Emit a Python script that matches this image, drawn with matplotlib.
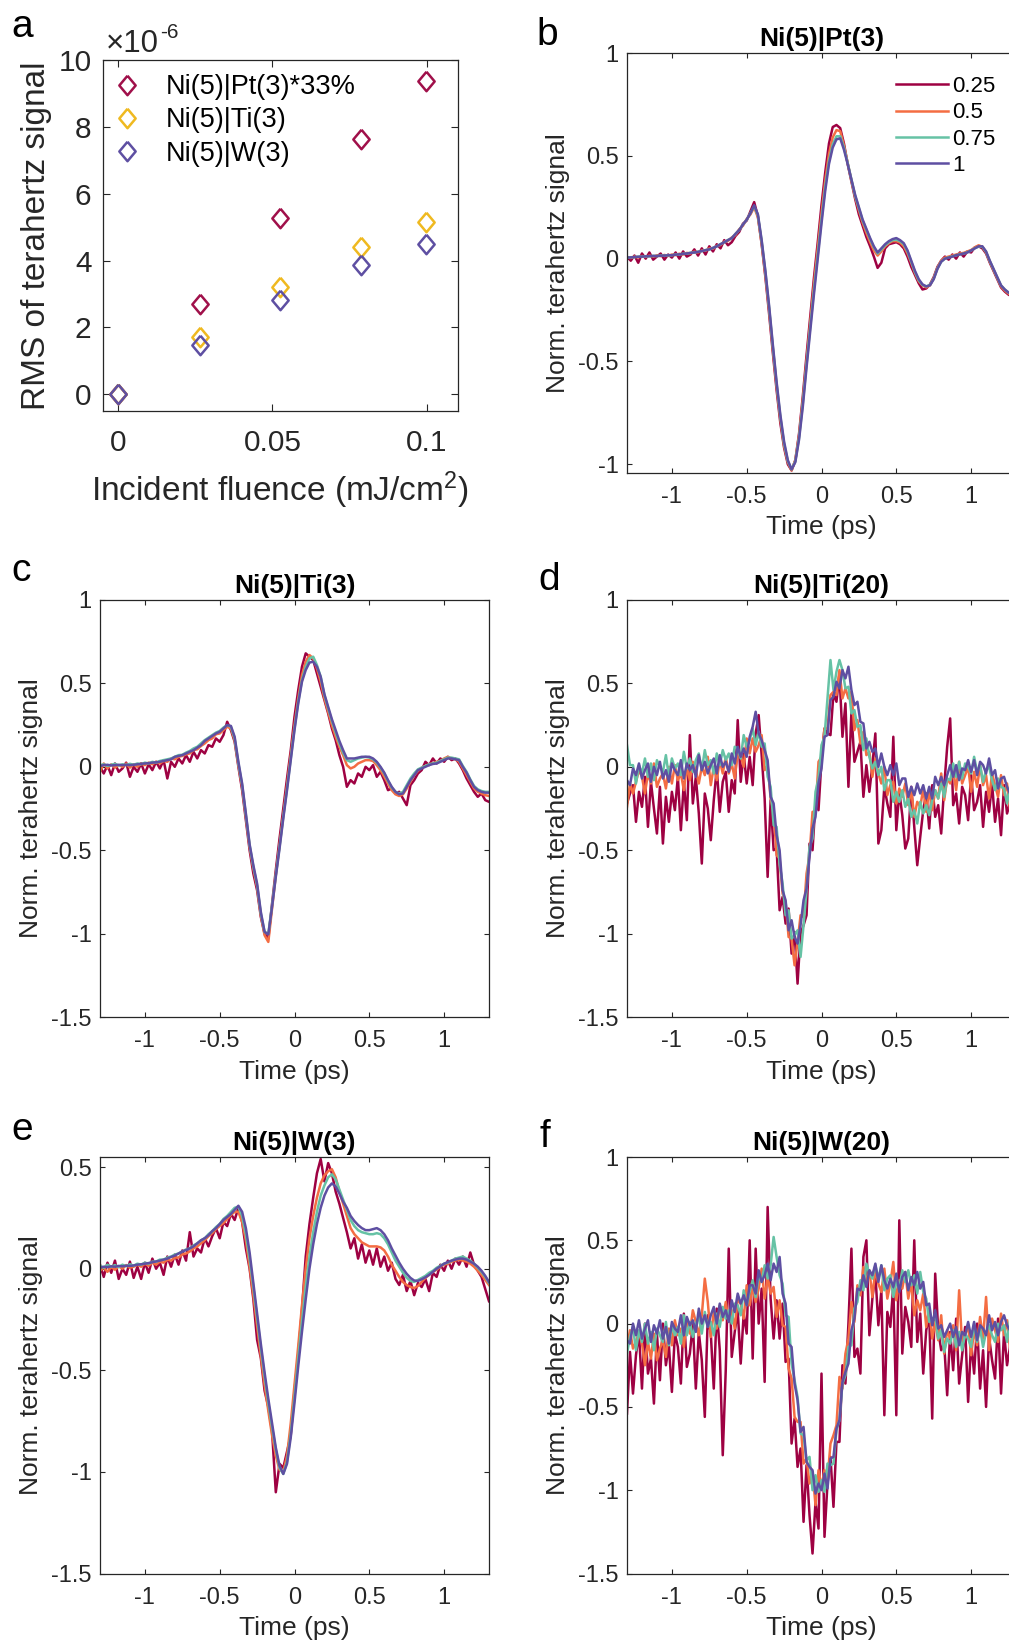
import numpy as np
import matplotlib.pyplot as plt
from matplotlib.ticker import FuncFormatter

plt.rcParams['font.family'] = ['Liberation Sans', 'DejaVu Sans']
plt.rcParams['axes.unicode_minus'] = False
plt.rcParams['mathtext.fontset'] = 'custom'
plt.rcParams['mathtext.rm'] = 'Liberation Sans'
plt.rcParams['mathtext.it'] = 'Liberation Sans:italic'
plt.rcParams['mathtext.bf'] = 'Liberation Sans:bold'

W, H = 1009, 1645
DARK = '#262626'

# ---- panel a: RMS of THz signal (x 1e-6) vs incident fluence (mJ/cm2)
fluence = [0, 0.0264, 0.0524, 0.0787, 0.0998]
rms_pt = [0, 2.70, 5.27, 7.65, 9.38]
rms_ti = [0, 1.72, 3.22, 4.42, 5.15]
rms_w = [0, 1.48, 2.82, 3.88, 4.50]
a_labels = ['Ni(5)|Pt(3)*33%', 'Ni(5)|Ti(3)', 'Ni(5)|W(3)']
a_colors = ['#A0104A', '#EFB920', '#5E4FA2']

# ---- waveforms, normalised, for relative fluence 0.25 / 0.5 / 0.75 / 1
levels = ['0.25', '0.5', '0.75', '1']
colors = ['#9E0142', '#F46D43', '#66C2A5', '#5E4FA2']

t_fine = np.linspace(-1.3, 1.3, 105)   # 0.025 ps steps
t_noisy = np.linspace(-1.3, 1.3, 131)  # 0.02 ps steps

pt3_025 = [0.010, -0.010, 0.015, -0.020, 0.025, 0.000, 0.030, -0.005, 0.010, 0.025,
           -0.005, 0.020, 0.005, 0.030, 0.000, 0.035, 0.010, 0.020, 0.045, 0.015,
           0.050, 0.020, 0.060, 0.035, 0.070, 0.050, 0.090, 0.065, 0.080, 0.110,
           0.130, 0.170, 0.185, 0.230, 0.275, 0.205, 0.070, -0.090, -0.270, -0.460,
           -0.640, -0.800, -0.920, -1.000, -1.030, -0.980, -0.850, -0.670, -0.470, -0.280,
           -0.090, 0.080, 0.260, 0.420, 0.560, 0.640, 0.650, 0.635, 0.560, 0.460,
           0.375, 0.290, 0.215, 0.160, 0.105, 0.060, 0.010, -0.045, -0.020, 0.050,
           0.070, 0.075, 0.080, 0.070, 0.050, 0.010, -0.040, -0.080, -0.120, -0.150,
           -0.145, -0.125, -0.090, -0.040, -0.010, 0.010, -0.005, 0.020, 0.000, 0.030,
           0.010, 0.035, 0.030, 0.055, 0.060, 0.050, 0.025, -0.020, -0.060, -0.100,
           -0.140, -0.160, -0.175, -0.185, -0.195]
pt3_05 = [0.008, 0.003, 0.010, 0.006, 0.013, 0.008, 0.015, 0.010, 0.016, 0.012,
          0.018, 0.013, 0.020, 0.017, 0.024, 0.020, 0.028, 0.025, 0.034, 0.030,
          0.040, 0.038, 0.050, 0.048, 0.062, 0.066, 0.083, 0.086, 0.103, 0.115,
          0.143, 0.160, 0.193, 0.215, 0.250, 0.200, 0.075, -0.080, -0.250, -0.440,
          -0.620, -0.780, -0.910, -0.990, -1.030, -0.980, -0.860, -0.690, -0.500, -0.310,
          -0.120, 0.050, 0.220, 0.380, 0.510, 0.590, 0.625, 0.620, 0.550, 0.465,
          0.380, 0.300, 0.235, 0.175, 0.125, 0.080, 0.040, 0.015, 0.035, 0.060,
          0.075, 0.085, 0.085, 0.078, 0.060, 0.025, -0.020, -0.070, -0.110, -0.130,
          -0.140, -0.130, -0.095, -0.045, -0.010, 0.005, 0.010, 0.015, 0.020, 0.025,
          0.028, 0.035, 0.042, 0.055, 0.065, 0.058, 0.030, -0.015, -0.055, -0.095,
          -0.135, -0.155, -0.170, -0.180, -0.190]
pt3_075 = [0.004, 0.007, 0.007, 0.010, 0.009, 0.012, 0.011, 0.014, 0.012, 0.015,
           0.014, 0.017, 0.016, 0.020, 0.020, 0.024, 0.024, 0.029, 0.029, 0.034,
           0.036, 0.042, 0.044, 0.053, 0.059, 0.071, 0.079, 0.091, 0.099, 0.121,
           0.139, 0.166, 0.189, 0.222, 0.255, 0.210, 0.085, -0.065, -0.240, -0.430,
           -0.610, -0.770, -0.900, -0.985, -1.025, -0.985, -0.870, -0.705, -0.515, -0.330,
           -0.150, 0.020, 0.190, 0.350, 0.475, 0.555, 0.595, 0.595, 0.540, 0.465,
           0.385, 0.305, 0.245, 0.185, 0.140, 0.095, 0.055, 0.025, 0.045, 0.065,
           0.080, 0.090, 0.092, 0.085, 0.070, 0.035, -0.015, -0.065, -0.105, -0.128,
           -0.135, -0.128, -0.098, -0.048, -0.015, 0.000, 0.006, 0.011, 0.016, 0.021,
           0.024, 0.031, 0.039, 0.051, 0.058, 0.058, 0.033, -0.012, -0.052, -0.092,
           -0.130, -0.150, -0.165, -0.175, -0.185]
pt3_1 = [0.005, 0.006, 0.008, 0.009, 0.010, 0.011, 0.012, 0.013, 0.013, 0.014,
         0.015, 0.016, 0.017, 0.019, 0.021, 0.023, 0.025, 0.028, 0.030, 0.033,
         0.037, 0.041, 0.045, 0.052, 0.060, 0.070, 0.080, 0.090, 0.100, 0.120,
         0.140, 0.165, 0.190, 0.220, 0.260, 0.215, 0.090, -0.060, -0.230, -0.420,
         -0.600, -0.760, -0.890, -0.980, -1.025, -0.990, -0.880, -0.720, -0.530, -0.350,
         -0.170, 0.000, 0.170, 0.330, 0.460, 0.540, 0.580, 0.585, 0.530, 0.460,
         0.385, 0.310, 0.250, 0.190, 0.145, 0.100, 0.060, 0.030, 0.050, 0.070,
         0.085, 0.095, 0.100, 0.090, 0.075, 0.040, -0.010, -0.060, -0.100, -0.125,
         -0.135, -0.130, -0.100, -0.050, -0.015, 0.000, 0.005, 0.010, 0.017, 0.020,
         0.025, 0.030, 0.040, 0.050, 0.060, 0.060, 0.035, -0.010, -0.050, -0.090,
         -0.130, -0.150, -0.165, -0.175, -0.185]

ti3_025 = [0.000, -0.040, 0.010, -0.050, 0.020, -0.030, -0.010, 0.025, -0.060, 0.000,
           -0.030, 0.020, -0.040, 0.015, -0.020, 0.030, -0.010, 0.040, -0.070, 0.030,
           0.000, 0.050, 0.020, 0.070, 0.030, 0.090, 0.050, 0.100, 0.080, 0.130,
           0.120, 0.170, 0.150, 0.190, 0.270, 0.220, 0.150, 0.000, -0.140, -0.320,
           -0.500, -0.640, -0.740, -0.900, -1.000, -1.030, -0.820, -0.620, -0.430, -0.250,
           -0.070, 0.100, 0.300, 0.460, 0.600, 0.680, 0.660, 0.640, 0.560, 0.480,
           0.400, 0.320, 0.230, 0.160, 0.070, 0.000, -0.120, -0.080, -0.100, -0.040,
           -0.060, 0.000, -0.020, 0.010, -0.060, -0.030, -0.080, -0.140, -0.130, -0.160,
           -0.150, -0.190, -0.230, -0.110, -0.080, -0.040, -0.020, 0.030, 0.010, 0.050,
           0.020, 0.050, 0.030, 0.060, 0.040, 0.050, 0.020, -0.020, -0.070, -0.110,
           -0.150, -0.180, -0.160, -0.200, -0.210]
ti3_05 = [-0.030, 0.020, -0.010, 0.015, -0.005, 0.010, 0.000, 0.020, -0.005, 0.015,
          0.000, 0.020, 0.010, 0.025, 0.015, 0.030, 0.020, 0.035, 0.030, 0.050,
          0.045, 0.060, 0.065, 0.075, 0.080, 0.100, 0.105, 0.125, 0.140, 0.160,
          0.170, 0.195, 0.200, 0.220, 0.240, 0.230, 0.160, 0.010, -0.120, -0.300,
          -0.480, -0.610, -0.720, -0.890, -1.010, -1.050, -0.850, -0.650, -0.470, -0.290,
          -0.110, 0.070, 0.250, 0.410, 0.550, 0.630, 0.670, 0.650, 0.590, 0.510,
          0.410, 0.330, 0.250, 0.180, 0.120, 0.070, 0.010, -0.010, 0.000, 0.020,
          0.030, 0.040, 0.040, 0.035, 0.010, -0.020, -0.060, -0.100, -0.140, -0.165,
          -0.175, -0.165, -0.130, -0.090, -0.050, -0.025, -0.005, 0.005, 0.015, 0.020,
          0.030, 0.035, 0.050, 0.060, 0.050, 0.045, 0.030, -0.010, -0.050, -0.090,
          -0.130, -0.150, -0.160, -0.170, -0.175]
ti3_075 = [0.010, 0.015, 0.005, 0.012, 0.018, 0.008, 0.015, 0.010, 0.018, 0.012,
           0.020, 0.015, 0.025, 0.020, 0.030, 0.025, 0.035, 0.040, 0.045, 0.050,
           0.060, 0.070, 0.072, 0.085, 0.095, 0.110, 0.120, 0.140, 0.160, 0.175,
           0.190, 0.205, 0.215, 0.235, 0.250, 0.240, 0.170, 0.020, -0.110, -0.290,
           -0.470, -0.600, -0.710, -0.880, -0.990, -1.000, -0.830, -0.650, -0.480, -0.300,
           -0.130, 0.050, 0.230, 0.390, 0.520, 0.600, 0.650, 0.660, 0.610, 0.540,
           0.430, 0.350, 0.275, 0.205, 0.140, 0.085, 0.040, 0.030, 0.040, 0.050,
           0.055, 0.060, 0.055, 0.045, 0.025, -0.005, -0.040, -0.085, -0.125, -0.150,
           -0.160, -0.150, -0.110, -0.070, -0.040, -0.015, -0.005, 0.005, 0.015, 0.020,
           0.025, 0.035, 0.045, 0.055, 0.055, 0.050, 0.045, 0.005, -0.030, -0.075,
           -0.115, -0.135, -0.145, -0.150, -0.150]
ti3_1 = [0.005, 0.010, 0.012, 0.008, 0.010, 0.012, 0.010, 0.012, 0.010, 0.012,
         0.015, 0.018, 0.020, 0.022, 0.025, 0.027, 0.030, 0.035, 0.040, 0.045,
         0.060, 0.065, 0.070, 0.080, 0.090, 0.100, 0.115, 0.130, 0.155, 0.170,
         0.185, 0.200, 0.210, 0.230, 0.250, 0.245, 0.180, 0.030, -0.100, -0.280,
         -0.465, -0.590, -0.700, -0.870, -0.990, -1.005, -0.840, -0.660, -0.490, -0.310,
         -0.140, 0.040, 0.220, 0.380, 0.510, 0.580, 0.625, 0.630, 0.600, 0.540,
         0.435, 0.360, 0.285, 0.220, 0.155, 0.100, 0.050, 0.050, 0.050, 0.055,
         0.060, 0.060, 0.060, 0.050, 0.030, 0.000, -0.035, -0.080, -0.120, -0.150,
         -0.165, -0.160, -0.120, -0.080, -0.050, -0.020, -0.010, 0.000, 0.010, 0.017,
         0.020, 0.030, 0.040, 0.050, 0.050, 0.045, 0.040, 0.000, -0.035, -0.080,
         -0.120, -0.140, -0.150, -0.155, -0.155]

w3_025 = [0.020, -0.040, 0.030, -0.020, 0.040, -0.050, 0.000, -0.030, 0.035, -0.045,
          0.010, -0.050, 0.030, -0.020, 0.050, 0.000, 0.030, -0.030, 0.060, 0.010,
          0.070, 0.020, 0.090, 0.040, 0.180, 0.060, 0.100, 0.080, 0.150, 0.110,
          0.160, 0.200, 0.150, 0.230, 0.210, 0.270, 0.240, 0.300, 0.230, 0.100,
          0.000, -0.150, -0.350, -0.440, -0.600, -0.680, -0.800, -1.100, -0.960, -0.980,
          -0.900, -0.820, -0.600, -0.420, -0.200, 0.060, 0.220, 0.350, 0.470, 0.540,
          0.430, 0.520, 0.470, 0.380, 0.320, 0.250, 0.180, 0.100, 0.150, 0.050,
          0.120, 0.030, 0.090, 0.020, 0.100, 0.010, 0.060, -0.010, 0.030, -0.050,
          -0.080, -0.030, -0.110, -0.060, -0.130, -0.070, -0.090, -0.050, -0.110, -0.020,
          -0.040, 0.020, -0.010, 0.040, 0.000, 0.050, 0.020, 0.060, 0.010, 0.080,
          0.020, -0.010, -0.040, -0.100, -0.160]
w3_05 = [-0.010, 0.005, -0.015, 0.010, -0.005, 0.012, 0.000, 0.018, 0.005, 0.010,
         0.020, 0.010, 0.025, 0.015, 0.030, 0.020, 0.035, 0.030, 0.045, 0.040,
         0.055, 0.055, 0.070, 0.075, 0.085, 0.100, 0.110, 0.125, 0.140, 0.160,
         0.175, 0.195, 0.210, 0.225, 0.245, 0.265, 0.280, 0.280, 0.230, 0.140,
         0.010, -0.130, -0.280, -0.430, -0.570, -0.700, -0.820, -0.920, -0.990, -1.000,
         -0.920, -0.760, -0.570, -0.380, -0.180, 0.000, 0.150, 0.260, 0.350, 0.420,
         0.460, 0.480, 0.490, 0.450, 0.380, 0.320, 0.260, 0.200, 0.170, 0.150,
         0.130, 0.120, 0.110, 0.110, 0.110, 0.105, 0.090, 0.060, 0.020, -0.010,
         -0.040, -0.065, -0.080, -0.090, -0.095, -0.085, -0.065, -0.045, -0.030, -0.015,
         -0.005, 0.010, 0.020, 0.025, 0.035, 0.040, 0.045, 0.040, 0.035, 0.025,
         0.010, -0.010, -0.030, -0.055, -0.080]
w3_075 = [0.015, 0.005, 0.020, 0.010, 0.018, 0.008, 0.020, 0.012, 0.022, 0.015,
          0.025, 0.020, 0.030, 0.025, 0.035, 0.035, 0.045, 0.045, 0.055, 0.060,
          0.070, 0.075, 0.085, 0.095, 0.100, 0.115, 0.125, 0.140, 0.150, 0.170,
          0.185, 0.205, 0.220, 0.245, 0.260, 0.280, 0.300, 0.305, 0.260, 0.170,
          0.050, -0.090, -0.240, -0.390, -0.530, -0.660, -0.780, -0.890, -0.980, -1.010,
          -0.950, -0.810, -0.630, -0.440, -0.260, -0.090, 0.060, 0.180, 0.280, 0.360,
          0.410, 0.450, 0.465, 0.440, 0.390, 0.340, 0.290, 0.240, 0.210, 0.190,
          0.180, 0.175, 0.170, 0.170, 0.175, 0.170, 0.150, 0.120, 0.080, 0.040,
          0.010, -0.020, -0.045, -0.060, -0.065, -0.055, -0.045, -0.035, -0.020, -0.010,
          0.005, 0.015, 0.025, 0.030, 0.040, 0.050, 0.055, 0.060, 0.050, 0.040,
          0.025, 0.005, -0.015, -0.040, -0.070]
w3_1 = [0.005, 0.010, 0.008, 0.012, 0.010, 0.014, 0.012, 0.015, 0.014, 0.016,
        0.020, 0.022, 0.025, 0.028, 0.032, 0.036, 0.040, 0.045, 0.050, 0.058,
        0.065, 0.075, 0.085, 0.092, 0.100, 0.110, 0.125, 0.140, 0.150, 0.165,
        0.185, 0.200, 0.220, 0.240, 0.255, 0.270, 0.290, 0.310, 0.280, 0.200,
        0.080, -0.070, -0.220, -0.370, -0.510, -0.640, -0.760, -0.880, -0.970, -1.010,
        -0.960, -0.830, -0.660, -0.480, -0.310, -0.150, 0.000, 0.120, 0.220, 0.300,
        0.360, 0.400, 0.420, 0.405, 0.370, 0.330, 0.300, 0.260, 0.235, 0.215,
        0.200, 0.190, 0.190, 0.195, 0.200, 0.190, 0.170, 0.140, 0.100, 0.065,
        0.030, 0.000, -0.025, -0.045, -0.058, -0.060, -0.052, -0.042, -0.030, -0.015,
        0.000, 0.012, 0.025, 0.033, 0.040, 0.045, 0.050, 0.050, 0.045, 0.035,
        0.025, 0.010, -0.010, -0.035, -0.065]

ti20_025 = [-0.22, -0.16, -0.11, -0.33, -0.15, -0.24, -0.06, -0.36, -0.09, -0.25,
            -0.40, -0.12, -0.46, -0.18, -0.33, -0.15, -0.26, -0.06, -0.38, -0.09,
            -0.32, 0.19, -0.22, -0.06, -0.28, -0.58, -0.16, -0.25, -0.44, -0.20,
            -0.01, -0.27, -0.09, -0.03, -0.27, -0.08, -0.16, 0.28, -0.09, 0.08,
            -0.10, 0.06, -0.11, 0.20, 0.31, 0.07, -0.19, -0.66, -0.20, -0.50,
            -0.49, -0.86, -0.78, -0.94, -0.85, -1.12, -0.99, -1.30, -1.00, -0.95,
            -0.89, -0.46, -0.50, -0.21, -0.26, 0.04, 0.23, 0.20, 0.19, 0.44,
            0.39, 0.56, 0.18, 0.38, -0.12, 0.33, 0.03, 0.09, 0.15, -0.18,
            0.01, -0.15, 0.01, 0.20, -0.46, -0.38, -0.12, -0.22, -0.30, 0.18,
            -0.38, -0.15, -0.29, -0.49, -0.43, -0.12, -0.36, -0.59, -0.42, -0.26,
            -0.16, -0.37, -0.11, -0.30, -0.23, -0.40, -0.12, 0.12, 0.29, -0.23,
            -0.16, -0.34, -0.12, -0.17, -0.32, -0.05, -0.26, -0.21, -0.11, -0.36,
            -0.15, -0.27, -0.10, -0.33, -0.19, -0.41, -0.11, -0.28, -0.22, -0.38,
            -0.09]
ti20_05 = [-0.24, -0.10, -0.16, -0.09, -0.02, -0.06, -0.16, -0.04, -0.10, 0.02,
           -0.12, -0.07, -0.04, -0.13, 0.00, -0.10, 0.01, -0.08, -0.04, -0.14,
           0.00, -0.08, 0.03, -0.02, -0.10, 0.00, -0.05, 0.06, -0.11, 0.00,
           -0.08, 0.04, -0.04, 0.06, -0.04, 0.02, -0.07, 0.08, 0.07, 0.00,
           0.17, 0.08, 0.17, 0.09, 0.13, 0.19, -0.02, 0.01, -0.19, -0.27,
           -0.53, -0.55, -0.76, -0.81, -1.02, -1.03, -1.19, -1.05, -0.89, -0.90,
           -0.64, -0.53, -0.27, -0.27, 0.03, 0.06, 0.23, 0.23, 0.43, 0.45,
           0.43, 0.58, 0.41, 0.47, 0.41, 0.45, 0.22, 0.28, 0.14, 0.21,
           0.07, 0.09, -0.06, 0.05, -0.04, -0.10, 0.00, -0.17, -0.11, -0.09,
           -0.22, -0.13, -0.18, -0.10, -0.23, -0.14, -0.30, -0.21, -0.24, -0.13,
           -0.27, -0.14, -0.26, -0.14, -0.19, -0.04, -0.20, -0.07, -0.10, -0.02,
           -0.14, 0.03, -0.10, -0.05, 0.00, -0.15, -0.03, -0.12, 0.01, -0.11,
           -0.05, -0.19, -0.04, -0.11, -0.18, -0.05, -0.17, -0.10, -0.25, -0.15,
           -0.15]
ti20_075 = [0.13, 0.01, 0.01, -0.10, 0.01, -0.04, 0.05, -0.06, 0.02, -0.08,
            0.04, 0.00, -0.03, 0.07, -0.06, 0.05, -0.01, 0.02, -0.05, 0.09,
            -0.01, 0.05, -0.03, 0.04, 0.08, -0.02, 0.10, 0.01, 0.04, -0.04,
            0.08, 0.01, 0.10, 0.04, 0.08, 0.01, 0.12, 0.11, 0.05, 0.19,
            0.12, 0.16, 0.23, 0.13, 0.21, 0.12, 0.14, -0.06, -0.12, -0.35,
            -0.36, -0.58, -0.70, -0.89, -0.86, -1.03, -1.01, -0.98, -1.14, -0.95,
            -0.74, -0.48, -0.43, -0.15, -0.07, 0.13, 0.18, 0.41, 0.64, 0.46,
            0.57, 0.64, 0.58, 0.47, 0.48, 0.32, 0.34, 0.24, 0.25, 0.10,
            0.17, 0.06, -0.01, 0.03, -0.05, 0.00, -0.14, -0.08, -0.08, -0.21,
            -0.15, -0.21, -0.14, -0.24, -0.19, -0.30, -0.26, -0.34, -0.21, -0.28,
            -0.23, -0.29, -0.20, -0.14, -0.19, -0.10, -0.18, -0.07, -0.08, 0.02,
            -0.06, 0.03, -0.07, 0.02, 0.00, -0.04, 0.06, -0.03, 0.01, -0.09,
            -0.02, 0.00, -0.08, -0.14, -0.07, -0.12, -0.13, -0.22, -0.12, -0.20,
            -0.11]
ti20_1 = [-0.08, -0.11, -0.01, -0.05, 0.02, -0.07, -0.02, 0.02, -0.09, 0.00,
          -0.05, 0.03, -0.07, -0.02, -0.09, 0.02, -0.02, -0.05, 0.04, -0.07,
          0.02, -0.02, 0.01, -0.06, 0.07, -0.02, 0.03, -0.04, 0.01, 0.05,
          -0.04, 0.07, 0.00, 0.03, -0.03, 0.08, 0.02, 0.12, 0.06, 0.11,
          0.06, 0.18, 0.24, 0.33, 0.20, 0.16, 0.10, 0.04, -0.18, -0.22,
          -0.41, -0.50, -0.74, -0.80, -0.98, -0.92, -1.02, -1.06, -0.95, -0.80,
          -0.73, -0.54, -0.37, -0.30, -0.10, -0.01, 0.18, 0.19, 0.40, 0.42,
          0.51, 0.47, 0.58, 0.53, 0.60, 0.46, 0.37, 0.39, 0.27, 0.26,
          0.11, 0.15, 0.09, 0.11, 0.00, 0.08, 0.00, -0.05, 0.01, -0.05,
          0.02, -0.11, -0.07, -0.07, -0.18, -0.12, -0.17, -0.10, -0.16, -0.11,
          -0.19, -0.12, -0.19, -0.06, -0.11, -0.06, -0.11, -0.05, 0.01, -0.06,
          0.01, -0.08, -0.01, -0.02, 0.04, -0.03, 0.04, -0.05, 0.03, 0.01,
          -0.04, 0.05, -0.05, -0.02, -0.13, -0.07, -0.06, -0.12, -0.16, -0.10,
          -0.13]

w20_025 = [-0.54, -0.17, -0.42, -0.19, -0.05, -0.39, 0.00, -0.30, -0.21, -0.48,
           -0.06, -0.34, 0.00, -0.25, -0.13, -0.41, -0.06, -0.14, -0.36, 0.06,
           -0.26, -0.18, 0.00, -0.39, -0.05, -0.22, -0.56, 0.05, -0.06, -0.39,
           0.09, -0.16, -0.79, -0.28, 0.45, -0.20, -0.05, 0.08, -0.24, 0.06,
           -0.06, 0.50, -0.21, 0.45, 0.00, 0.21, -0.35, 0.70, 0.15, -0.09,
           0.14, -0.09, 0.12, -0.23, -0.21, -0.72, -0.57, -0.86, -0.75, -1.19,
           -0.85, -1.15, -1.38, -1.07, -1.23, -0.30, -1.28, -0.96, -0.80, -1.10,
           -0.71, -0.71, -0.25, -0.36, 0.00, 0.45, -0.20, -0.15, -0.30, 0.40,
           0.50, -0.07, 0.15, 0.30, -0.01, 0.20, -0.55, 0.07, -0.02, 0.23,
           -0.55, 0.62, -0.18, 0.10, 0.01, -0.14, 0.50, -0.11, 0.06, -0.30,
           -0.04, 0.05, -0.57, 0.30, -0.04, -0.16, -0.12, -0.43, -0.05, -0.28,
           0.03, -0.36, -0.19, -0.02, -0.47, -0.11, -0.30, 0.00, -0.39, -0.16,
           -0.50, -0.08, -0.22, -0.33, 0.03, -0.42, -0.05, -0.25, -0.14, -0.44,
           0.06]
w20_05 = [-0.14, -0.04, -0.15, -0.11, -0.05, -0.12, -0.25, -0.11, -0.21, -0.06,
          -0.22, -0.15, -0.10, -0.20, -0.03, -0.13, 0.02, -0.07, -0.03, -0.14,
          0.03, -0.06, 0.08, 0.01, -0.07, 0.05, 0.27, 0.13, -0.08, 0.07,
          -0.03, 0.11, 0.02, 0.13, 0.01, 0.08, -0.03, 0.15, 0.12, 0.03,
          0.23, 0.11, 0.22, 0.13, 0.21, 0.33, 0.15, 0.28, 0.18, 0.22,
          0.04, 0.14, -0.01, -0.02, -0.27, -0.33, -0.56, -0.59, -0.59, -0.84,
          -0.81, -0.96, -0.89, -1.09, -0.88, -0.98, -0.88, -0.94, -0.72, -0.67,
          -0.61, -0.32, -0.39, -0.18, -0.09, 0.13, 0.01, 0.23, 0.17, 0.34,
          0.25, 0.32, 0.16, 0.32, 0.24, 0.19, 0.33, 0.15, 0.24, 0.37,
          0.14, 0.26, 0.21, 0.31, 0.15, 0.25, 0.05, 0.14, 0.08, 0.18,
          -0.02, 0.09, -0.09, 0.01, -0.10, 0.05, -0.18, -0.04, -0.09, -0.01,
          -0.16, 0.20, -0.13, -0.07, -0.01, -0.19, -0.04, -0.13, 0.04, -0.09,
          0.16, -0.16, 0.03, -0.04, -0.11, 0.06, -0.07, 0.02, -0.15, -0.01,
          -0.01]
w20_075 = [-0.18, -0.08, -0.02, -0.16, -0.04, -0.11, 0.00, -0.12, -0.05, -0.16,
           -0.03, -0.07, -0.11, 0.01, -0.13, -0.01, -0.07, -0.02, -0.12, 0.05,
           -0.07, 0.01, -0.08, 0.00, 0.04, -0.06, 0.07, -0.02, 0.01, -0.07,
           0.06, -0.02, 0.10, 0.03, 0.08, 0.00, 0.12, 0.11, 0.05, 0.20,
           0.11, 0.19, 0.26, 0.16, 0.29, 0.25, 0.35, 0.27, 0.35, 0.52,
           0.40, 0.29, 0.24, 0.05, 0.04, -0.24, -0.34, -0.44, -0.66, -0.67,
           -0.82, -0.80, -1.00, -0.91, -1.01, -0.94, -1.01, -0.84, -0.85, -0.84,
           -0.64, -0.58, -0.36, -0.31, -0.14, -0.13, 0.09, 0.13, 0.26, 0.20,
           0.36, 0.30, 0.27, 0.35, 0.27, 0.35, 0.20, 0.27, 0.29, 0.16,
           0.25, 0.21, 0.32, 0.25, 0.32, 0.23, 0.29, 0.18, 0.31, 0.19,
           0.15, 0.01, 0.03, 0.04, -0.09, -0.04, -0.17, -0.09, -0.12, -0.04,
           -0.14, -0.05, -0.16, -0.06, -0.09, -0.14, 0.00, -0.11, -0.03, -0.14,
           -0.05, -0.01, -0.07, -0.11, 0.00, -0.04, -0.01, -0.11, 0.02, -0.05,
           0.05]
w20_1 = [-0.10, -0.12, 0.00, -0.07, 0.02, -0.09, -0.03, 0.02, -0.11, -0.01,
         -0.06, 0.02, -0.09, -0.02, -0.12, 0.01, -0.03, -0.05, 0.05, -0.07,
         0.04, -0.01, 0.02, -0.05, 0.09, 0.00, 0.05, -0.02, 0.05, 0.10,
         0.00, 0.12, 0.04, 0.08, 0.01, 0.14, 0.07, 0.18, 0.12, 0.17,
         0.11, 0.23, 0.23, 0.18, 0.32, 0.25, 0.29, 0.36, 0.26, 0.36,
         0.31, 0.40, 0.18, 0.12, -0.12, -0.14, -0.36, -0.46, -0.65, -0.62,
         -0.83, -0.86, -0.88, -1.02, -0.96, -1.00, -0.90, -0.99, -0.81, -0.80,
         -0.63, -0.58, -0.35, -0.29, -0.24, -0.04, 0.03, 0.21, 0.20, 0.29,
         0.22, 0.32, 0.29, 0.36, 0.25, 0.35, 0.26, 0.21, 0.27, 0.22,
         0.30, 0.19, 0.28, 0.31, 0.20, 0.28, 0.23, 0.31, 0.21, 0.25,
         0.11, 0.12, -0.01, 0.08, -0.03, -0.01, -0.08, -0.04, 0.00, -0.08,
         -0.02, -0.13, -0.05, -0.07, 0.01, -0.08, 0.01, -0.10, -0.01, -0.03,
         -0.07, 0.05, -0.04, 0.01, -0.07, 0.01, 0.05, -0.01, -0.04, 0.05,
         0.02]

fmt = FuncFormatter(lambda v, p: '%g' % v)


def style_axes(ax, ticksize, ticklen, xpad, ypad):
    for s in ax.spines.values():
        s.set_color(DARK)
        s.set_linewidth(0.9)
    ax.tick_params(direction='in', top=True, right=True, length=ticklen, width=0.8,
                   labelsize=ticksize, color=DARK, labelcolor=DARK)
    ax.tick_params(axis='x', pad=xpad)
    ax.tick_params(axis='y', pad=ypad)
    ax.xaxis.set_major_formatter(fmt)
    ax.yaxis.set_major_formatter(fmt)


def wave_panel(ax, t, traces, title, ylim, yticks):
    lines = []
    for y, c in zip(traces, colors):
        ln, = ax.plot(t, y, color=c, lw=1.8)
        lines.append(ln)
    ax.set_xlim(-1.3, 1.3)
    ax.set_ylim(*ylim)
    ax.set_xticks([-1, -0.5, 0, 0.5, 1])
    ax.set_yticks(yticks)
    style_axes(ax, 17, 3.6, 9.5, 6)
    ax.set_title(title, fontsize=19, fontweight='bold', pad=5, color='black')
    ax.set_xlabel('Time (ps)', fontsize=19, labelpad=5.5, color=DARK)
    ax.set_ylabel('Norm. terahertz signal', fontsize=19, labelpad=6, color=DARK)
    return lines


fig = plt.figure(figsize=(W / 100, H / 100), dpi=100)

ax_a = fig.add_axes([102.7 / W, 1 - 411 / H, 355 / W, 351 / H])
ax_b = fig.add_axes([627 / W, 1 - 472.5 / H, 389 / W, 419.5 / H])
ax_c = fig.add_axes([100 / W, 1 - 1017 / H, 389 / W, 417 / H])
ax_d = fig.add_axes([627 / W, 1 - 1017 / H, 389 / W, 417 / H])
ax_e = fig.add_axes([100 / W, 1 - 1573.5 / H, 389 / W, 416.5 / H])
ax_f = fig.add_axes([627 / W, 1 - 1573.5 / H, 389 / W, 416.5 / H])

# panel a
diamond = [(0, 1), (0.84, 0), (0, -1), (-0.84, 0), (0, 1)]
handles = []
for y, c, lab in zip([rms_pt, rms_ti, rms_w], a_colors, a_labels):
    h, = ax_a.plot(fluence, y, linestyle='none', marker=diamond, ms=14,
                   mfc='none', mec=c, mew=1.8, label=lab)
    handles.append(h)
ax_a.set_xlim(-0.005, 0.11)
ax_a.set_ylim(-0.5, 10)
ax_a.set_xticks([0, 0.05, 0.1])
ax_a.set_yticks([0, 2, 4, 6, 8, 10])
style_axes(ax_a, 21.5, 5, 13, 8)
ax_a.set_xlabel('Incident fluence (mJ/cm$^{2}$)', fontsize=24, labelpad=9, color=DARK)
ax_a.set_ylabel('RMS of terahertz signal', fontsize=24, labelpad=5, color=DARK)
ax_a.text(0.010, 1.024, '\u00d710', transform=ax_a.transAxes, fontsize=22.5,
          ha='left', va='baseline', color=DARK)
ax_a.text(0.163, 1.062, '-6', transform=ax_a.transAxes, fontsize=15,
          ha='left', va='baseline', color=DARK)
ax_a.legend(handles=handles, loc='upper left', bbox_to_anchor=(113.5 / W, 1 - 74 / H),
            bbox_transform=fig.transFigure, frameon=False, fontsize=19.5,
            handlelength=1.0, handletextpad=0.94, labelspacing=0.27,
            borderpad=0, borderaxespad=0, numpoints=1)

lines_b = wave_panel(ax_b, t_fine, [pt3_025, pt3_05, pt3_075, pt3_1], 'Ni(5)|Pt(3)',
                     (-1.04, 1), [-1, -0.5, 0, 0.5, 1])
ax_b.legend(lines_b, levels, loc='upper left', bbox_to_anchor=(895.7 / W, 1 - 76 / H),
            bbox_transform=fig.transFigure, frameon=False, fontsize=16,
            handlelength=2.35, handletextpad=0.2, labelspacing=0.24,
            borderpad=0, borderaxespad=0)
wave_panel(ax_c, t_fine, [ti3_025, ti3_05, ti3_075, ti3_1], 'Ni(5)|Ti(3)',
           (-1.5, 1), [-1.5, -1, -0.5, 0, 0.5, 1])
wave_panel(ax_d, t_noisy, [ti20_025, ti20_05, ti20_075, ti20_1], 'Ni(5)|Ti(20)',
           (-1.5, 1), [-1.5, -1, -0.5, 0, 0.5, 1])
wave_panel(ax_e, t_fine, [w3_025, w3_05, w3_075, w3_1], 'Ni(5)|W(3)',
           (-1.5, 0.55), [-1.5, -1, -0.5, 0, 0.5])
wave_panel(ax_f, t_noisy, [w20_025, w20_05, w20_075, w20_1], 'Ni(5)|W(20)',
           (-1.5, 1), [-1.5, -1, -0.5, 0, 0.5, 1])

# panel letters
for lab, x, y in [('a', 11.7, 36.7), ('b', 536.7, 44.8), ('c', 11.7, 581),
                  ('d', 538.3, 590), ('e', 11.7, 1140), ('f', 540, 1147)]:
    fig.text(x / W, 1 - y / H, lab, fontsize=28, ha='left', va='baseline', color='black')

fig.savefig('out.png', dpi=100)
